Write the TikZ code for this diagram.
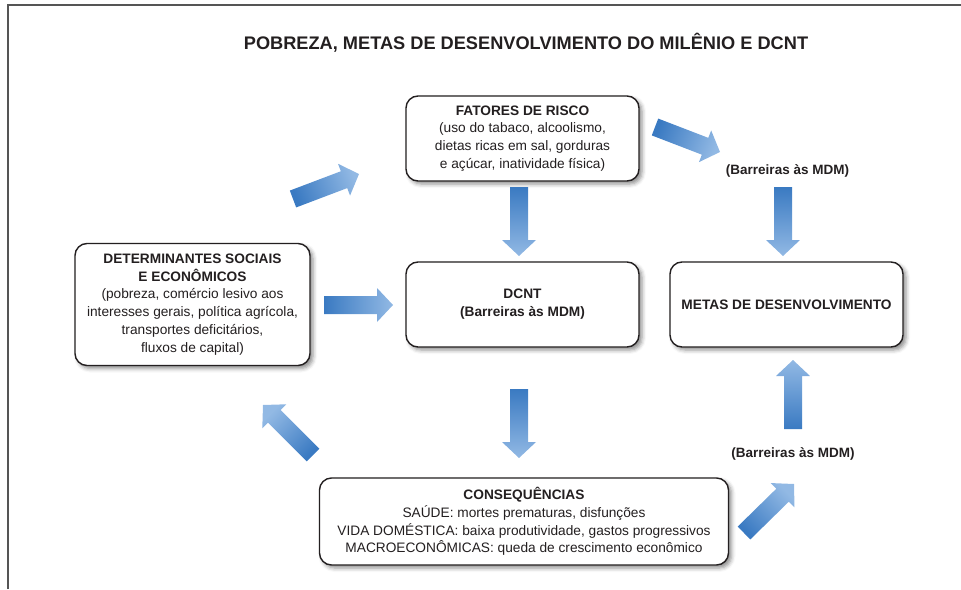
\documentclass[tikz,border=0pt]{standalone}
\usepackage{fontspec}
\setmainfont{Liberation Sans}
\usepackage{tikz}
\usetikzlibrary{shapes,arrows,calc,shadows.blur}
\definecolor{textdark}{RGB}{35,31,32}
\definecolor{framegray}{RGB}{85,85,85}
\definecolor{arrowdark}{RGB}{58,122,194}
\definecolor{arrowlight}{RGB}{146,185,228}
\tikzstyle{roundbox} = [draw=textdark, line width=1.4pt, rounded corners=12pt, fill=white,
  align=center, text=textdark, font=\fontsize{13.7}{17.8}\selectfont, inner sep=0pt,
  blur shadow={shadow xshift=3pt, shadow yshift=-3pt, shadow blur radius=4pt, shadow opacity=45}]
\tikzstyle{barlabel} = [text=textdark, font=\bfseries\fontsize{13.5}{17}\selectfont]
\tikzstyle{flow} = [shading=axis, top color=arrowdark, bottom color=arrowlight]
% #1 tail, #2 tip, #3 shading angle
\newcommand{\flowarrow}[3]{%
  \coordinate (neck) at ($(#2)!16pt!(#1)$);
  \shade[flow, shading angle=#3]
    ($(#1)!9pt!90:(#2)$) -- ($(neck)!9pt!90:(#2)$) -- ($(neck)!17pt!90:(#2)$) -- (#2)
    -- ($(neck)!17pt!-90:(#2)$) -- ($(neck)!9pt!-90:(#2)$) -- ($(#1)!9pt!-90:(#2)$) -- cycle;
}

\begin{document}
\begin{tikzpicture}[x=1pt, y=-1pt]
      \useasboundingbox (0,0) rectangle (961,589);
      \draw[framegray, line width=2pt] (8,589) -- (8,5) -- (961,5);

      \node (title) at (526,49.5) [anchor=base, text=textdark, font=\bfseries\fontsize{18.2}{22}\selectfont]
        {POBREZA, METAS DE DESENVOLVIMENTO DO MILÊNIO E DCNT};

      \node (fatores) at (522.5,138.5) [roundbox, minimum width=233pt, minimum height=85pt]
        {\textbf{FATORES DE RISCO}\\(uso do tabaco, alcoolismo,\\dietas ricas em sal, gorduras\\e açúcar, inatividade física)};
      \node (dcnt) at (522.5,304.5) [roundbox, minimum width=233pt, minimum height=85pt]
        {\textbf{DCNT}\\\textbf{(Barreiras às MDM)}};
      \node (metas) at (786.5,304.5) [roundbox, minimum width=233pt, minimum height=85pt]
        {\textbf{METAS DE DESENVOLVIMENTO}};
      \node (determ) at (192.5,304.5) [roundbox, minimum width=235pt, minimum height=122pt]
        {\textbf{DETERMINANTES SOCIAIS}\\\textbf{E ECONÔMICOS}\\(pobreza, comércio lesivo aos\\interesses gerais, política agrícola,\\transportes deficitários,\\fluxos de capital)};
      \node (conseq) at (524,521.5) [roundbox, minimum width=409pt, minimum height=87pt]
        {\textbf{CONSEQUÊNCIAS}\\SAÚDE: mortes prematuras, disfunções\\VIDA DOMÉSTICA: baixa produtividade, gastos progressivos\\MACROECONÔMICAS: queda de crescimento econômico};

      \node (barr1) at (787.5,171) [barlabel] {(Barreiras às MDM)};
      \node (barr2) at (793,454) [barlabel] {(Barreiras às MDM)};

      \coordinate (det-fat-s) at (293,199);
      \coordinate (det-fat-e) at (359,174);
      \coordinate (fat-bar-s) at (655,127);
      \coordinate (fat-bar-e) at (720,152);
      \coordinate (bar-met-s) at (783,187);
      \coordinate (bar-met-e) at (783,256);
      \coordinate (fat-dcnt-s) at (519,187);
      \coordinate (fat-dcnt-e) at (519,256);
      \coordinate (det-dcnt-s) at (324,305);
      \coordinate (det-dcnt-e) at (393,305);
      \coordinate (dcnt-con-s) at (519,389);
      \coordinate (dcnt-con-e) at (519,458);
      \coordinate (con-det-s) at (313,455);
      \coordinate (con-det-e) at (263,405);
      \coordinate (con-bar-s) at (744,533);
      \coordinate (con-bar-e) at (794,484);
      \coordinate (bar-up-s) at (793,429);
      \coordinate (bar-up-e) at (793,360);

      \flowarrow{det-fat-s}{det-fat-e}{111}
      \flowarrow{fat-bar-s}{fat-bar-e}{69}
      \flowarrow{bar-met-s}{bar-met-e}{0}
      \flowarrow{fat-dcnt-s}{fat-dcnt-e}{0}
      \flowarrow{det-dcnt-s}{det-dcnt-e}{90}
      \flowarrow{dcnt-con-s}{dcnt-con-e}{0}
      \flowarrow{con-det-s}{con-det-e}{225}
      \flowarrow{con-bar-s}{con-bar-e}{134}
      \flowarrow{bar-up-s}{bar-up-e}{180}
    \end{tikzpicture}
\end{document}
